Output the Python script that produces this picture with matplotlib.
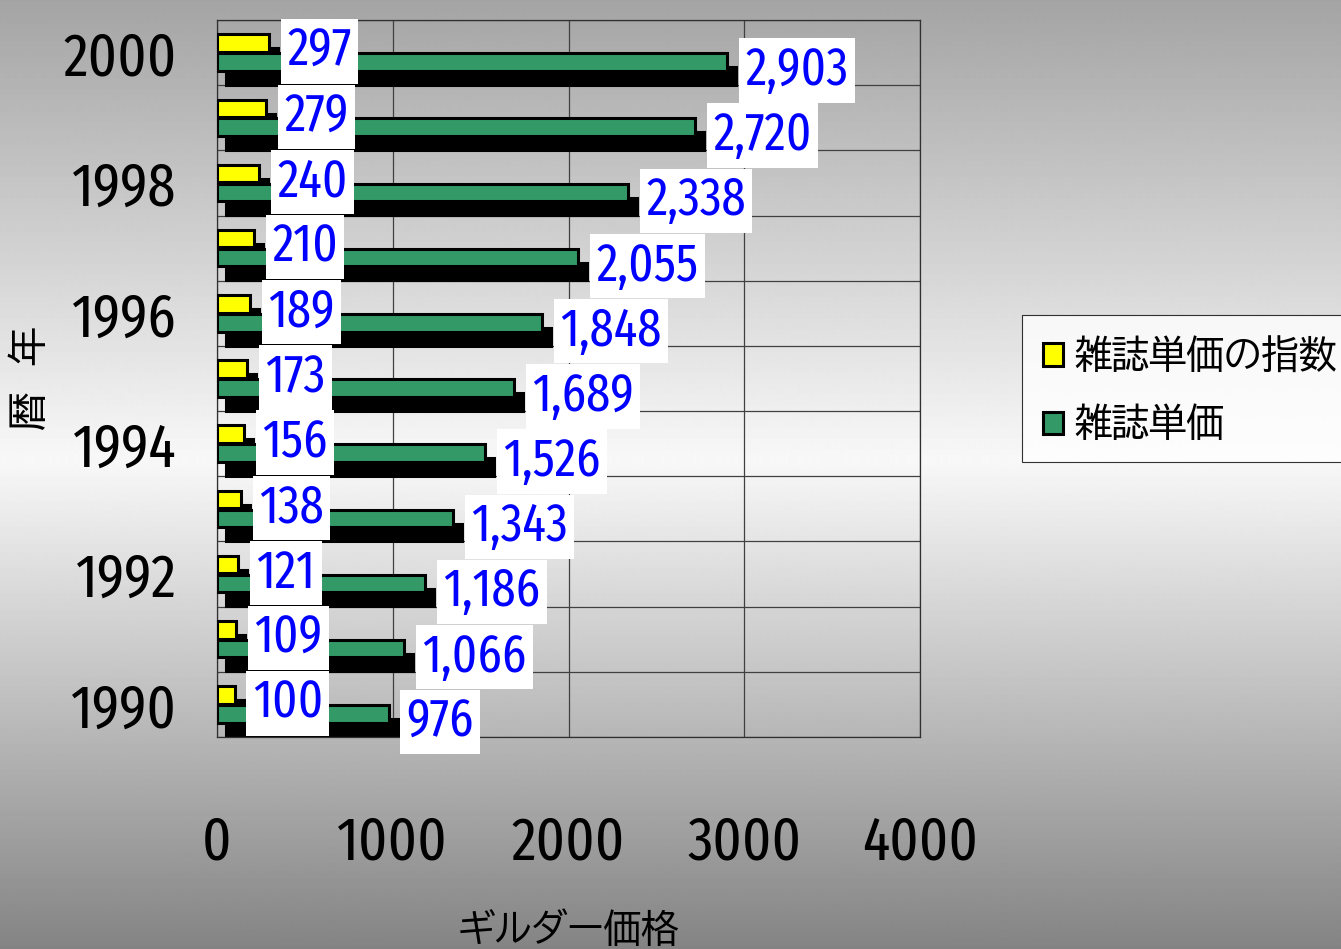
import numpy as np
import matplotlib
matplotlib.use("Agg")
import matplotlib.pyplot as plt
from matplotlib import font_manager
from matplotlib.transforms import ScaledTranslation
from matplotlib.patches import Patch

# ---- data ----
years = [1990, 1991, 1992, 1993, 1994, 1995, 1996, 1997, 1998, 1999, 2000]
index_values = [100, 109, 121, 138, 156, 173, 189, 210, 240, 279, 297]
price_values = [976, 1066, 1186, 1343, 1526, 1689, 1848, 2055, 2338, 2720, 2903]
series_names = ["雑誌単価の指数", "雑誌単価"]
year_labels = [str(y) if y % 2 == 0 else "" for y in years]
x_ticks = [0, 1000, 2000, 3000, 4000]
x_title = "ギルダー価格"
y_title = "暦　年"

available = {f.name for f in font_manager.fontManager.ttflist}
def pick(cands):
    for c in cands:
        if c in available:
            return c
    return "DejaVu Sans"
num_font = pick(["Fira Sans Extra Condensed", "Archivo Narrow", "IBM Plex Sans Condensed", "DejaVu Sans"])
cjk_font = [pick(["BIZ UDPGothic", "Noto Sans CJK JP"]), "DejaVu Sans"]

W, H, DPI = 1341, 949, 100
fig = plt.figure(figsize=(W / DPI, H / DPI), dpi=DPI)

# background gradient
bg = fig.add_axes([0, 0, 1, 1], zorder=-10)
yy = np.arange(H)
vals = np.interp(yy, [0, 460, H - 1], [164, 248, 132]) / 255.0
img = np.repeat(vals[:, None], 2, axis=1)
bg.imshow(img, cmap="gray", vmin=0, vmax=1, aspect="auto", extent=[0, 1, 0, 1], origin="upper")
bg.axis("off")

left, right, top, bottom = 217, 920, 20, 737
ax = fig.add_axes([left / W, 1 - bottom / H, (right - left) / W, (bottom - top) / H])
ax.patch.set_alpha(0)

pos = np.arange(len(years))
h = 0.27
off = 0.145
shadow_tr = ax.transData + ScaledTranslation(9 / DPI, -14 / DPI, fig.dpi_scale_trans)

ys = pos + off
yg = pos - off
sh1 = ax.barh(ys, index_values, height=h, color="black", edgecolor="black", linewidth=2.2, zorder=2)
sh2 = ax.barh(yg, price_values, height=h, color="black", edgecolor="black", linewidth=2.2, zorder=2)
for p in list(sh1) + list(sh2):
    p.set_transform(shadow_tr)
ax.barh(ys, index_values, height=h, color="#ffff00", edgecolor="black", linewidth=2.2, zorder=3)
ax.barh(yg, price_values, height=h, color="#339966", edgecolor="black", linewidth=2.2, zorder=3)

lab_kw = dict(textcoords="offset points", ha="left", va="center_baseline", fontsize=38,
              family=num_font, color="#0000ff", zorder=5, annotation_clip=False,
              bbox=dict(boxstyle="square,pad=0.12", fc="white", ec="none"))
for y, v in zip(ys, index_values):
    ax.annotate(f"{v:,}", xy=(v, y), xytext=(13, -2), **lab_kw)
for y, v in zip(yg, price_values):
    ax.annotate(f"{v:,}", xy=(v, y), xytext=(13, -2), **lab_kw)

ax.set_xlim(0, 4000)
ax.set_ylim(-0.5, len(years) - 0.5)
ax.set_xticks(x_ticks)
ax.set_xticklabels([str(t) for t in x_ticks], family=num_font, fontsize=44)
ax.set_yticks(pos)
ax.set_yticklabels(year_labels, family=num_font, fontsize=44)
ax.set_yticks(np.arange(-0.5, len(years), 1), minor=True)
ax.tick_params(axis="x", length=0, pad=55)
ax.tick_params(axis="y", length=0, pad=29)
ax.tick_params(which="minor", length=0)
ax.grid(axis="x", which="major", color="#404040", linewidth=0.9, zorder=1)
ax.grid(axis="y", which="minor", color="#404040", linewidth=0.9, zorder=1)
ax.set_axisbelow(True)
for s in ax.spines.values():
    s.set_color("#303030")
    s.set_linewidth(0.9)

fig.text((left + right) / 2 / W, 1 - 928 / H, x_title, family=cjk_font, fontsize=27, ha="center", va="center")
fig.text(28 / W, 1 - 378 / H, y_title, family=cjk_font, fontsize=28, ha="center", va="center", rotation=90)

handles = [Patch(facecolor="#ffff00", edgecolor="black", linewidth=2.2),
           Patch(facecolor="#339966", edgecolor="black", linewidth=2.2)]
leg = fig.legend(handles, series_names, loc="upper left", bbox_to_anchor=(1022 / W, 1 - 315 / H),
                 borderaxespad=0, frameon=True, fancybox=False, prop={"family": cjk_font, "size": 27},
                 handlelength=0.55, handleheight=0.55, handletextpad=0.3, labelspacing=0.85, borderpad=0.55)
leg.get_frame().set_edgecolor("black")
leg.get_frame().set_linewidth(0.8)
leg.get_frame().set_facecolor("white")

fig.savefig("out.png", dpi=DPI)
